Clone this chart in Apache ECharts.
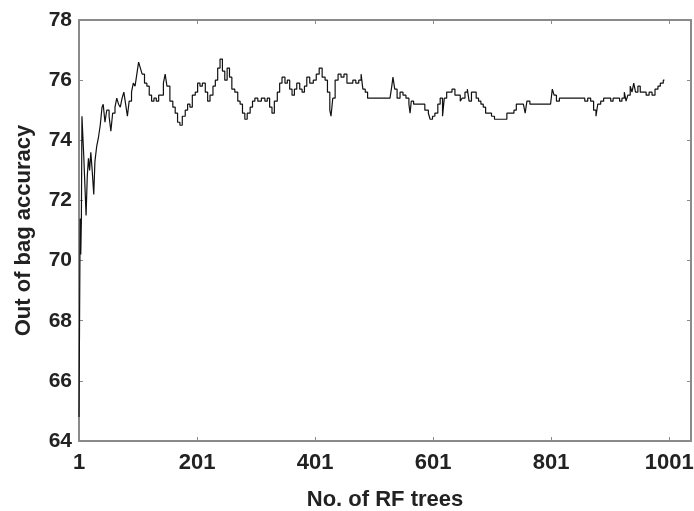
<!DOCTYPE html>
<html>
<head>
<meta charset="utf-8">
<script src="https://cdn.jsdelivr.net/npm/echarts@6/dist/echarts.min.js"></script>
<style>
  html, body { margin: 0; padding: 0; background: #fff; }
  #chart { width: 694px; height: 511px; }
</style>
</head>
<body>
<div id="chart"></div>
<script>
// number of trees (x) and out of bag accuracy (y)
var trees = [1, 2, 3, 4, 5, 6, 7, 9, 11, 13, 15, 17, 19, 21, 23, 26, 28, 31, 34, 37, 40, 42, 45, 48, 52, 55, 58, 62, 65, 68,
  71, 74, 77, 80, 83, 86, 90, 93, 96, 99, 102, 105, 108, 112, 116, 120, 124, 128, 132, 136, 140, 144, 147, 150, 155, 160,
  164, 168, 172, 176, 181, 185, 189, 193, 198, 202, 206, 210, 215, 219, 223, 228, 232, 236, 240, 244, 248, 252, 256, 260,
  265, 270, 274, 278, 282, 286, 291, 295, 299, 304, 310, 316, 320, 324, 328, 332, 337, 341, 345, 350, 354, 358, 362, 366,
  370, 375, 379, 383, 387, 392, 398, 403, 408, 413, 418, 422, 426, 428, 431, 435, 440, 445, 450, 455, 460, 465, 470, 475,
  479, 482, 486, 490, 494, 500, 510, 520, 528, 531, 533, 536, 540, 545, 550, 555, 560, 562, 564, 568, 576, 582, 587, 593,
  596, 600, 604, 609, 613, 617, 620, 624, 628, 633, 638, 642, 647, 650, 655, 659, 662, 666, 670, 674, 678, 682, 686, 690,
  695, 700, 705, 710, 720, 726, 732, 738, 742, 748, 754, 757, 760, 765, 775, 790, 800, 803, 806, 810, 815, 825, 835, 845,
  854, 858, 863, 868, 873, 877, 880, 885, 890, 896, 902, 906, 912, 917, 921, 925, 928, 931, 935, 938, 941, 944, 948, 952,
  957, 962, 967, 972, 977, 982, 986, 991, 993];
var accuracy = [64.8, 68.2, 71.4, 70.2, 71.3, 74.8, 74.8, 73.5, 72.5, 71.5, 72.8, 73.4, 73.0, 73.6, 73.1, 72.2, 73.3, 73.8, 74.1, 74.5, 75.1, 75.2, 74.6, 75.0, 74.8, 74.3, 74.9, 75.1, 75.4, 75.2,
  75.1, 75.4, 75.6, 75.2, 74.8, 75.3, 75.6, 75.9, 75.8, 76.2, 76.6, 76.4, 76.2, 75.9, 75.8, 75.5, 75.3, 75.4, 75.3, 75.5, 75.5, 75.9, 76.2, 75.8, 75.3, 75.1,
  74.9, 74.6, 74.5, 74.8, 75.0, 75.2, 75.1, 75.5, 75.6, 75.9, 75.8, 75.9, 75.6, 75.3, 75.5, 75.8, 76.0, 76.4, 76.7, 76.3, 76.0, 76.4, 76.1, 75.7,
  75.6, 75.3, 75.2, 74.9, 74.7, 74.9, 75.1, 75.3, 75.4, 75.3, 75.4, 75.3, 75.4, 75.1, 74.9, 75.3, 75.6, 75.9, 76.1, 75.9, 76.0, 75.7, 75.5, 75.7,
  75.9, 75.7, 75.6, 75.8, 76.1, 75.9, 76.0, 76.2, 76.4, 76.1, 76.0, 75.6, 75.0, 74.8, 75.4, 76.0, 76.2, 76.1, 76.2, 75.9, 75.9, 76.0, 75.9, 76.0,
  76.2, 75.7, 75.6, 75.4, 75.4, 75.4, 75.4, 75.4, 75.4, 75.8, 76.1, 75.7, 75.4, 75.6, 75.5, 75.4, 75.2, 74.9, 75.3, 75.2, 75.2, 75.2, 75.0, 74.9,
  74.7, 74.8, 74.9, 75.2, 75.4, 74.8, 75.4, 75.6, 75.6, 75.7, 75.5, 75.5, 75.3, 75.4, 75.6, 75.7, 75.3, 75.6, 75.6, 75.4, 75.3, 75.2, 75.1, 74.9,
  74.9, 74.8, 74.7, 74.7, 74.7, 74.9, 74.9, 75.0, 75.2, 75.2, 75.2, 74.9, 75.3, 75.2, 75.2, 75.2, 75.2, 75.7, 75.5, 75.3, 75.4, 75.4, 75.4, 75.4,
  75.4, 75.3, 75.4, 75.3, 75.0, 74.8, 75.2, 75.3, 75.4, 75.4, 75.3, 75.4, 75.4, 75.3, 75.4, 75.6, 75.3, 75.5, 75.8, 75.6, 75.9, 75.6, 75.8, 75.6,
  75.6, 75.5, 75.6, 75.5, 75.7, 75.8, 75.9, 76.0, 76.0];
var xTicks = [1, 201, 401, 601, 801, 1001];

var chart = echarts.init(document.getElementById("chart"));
var lineData = [];
for (var i = 0; i < trees.length; i++) {
  lineData.push([trees[i], accuracy[i]]);
}
var axisGray = "#8a8a8a";
var fontFamily = "Liberation Sans, Arial, sans-serif";
var option = {
  animation: false,
  grid: { left: 79, right: 3, top: 20, bottom: 70, outerBoundsMode: "none" },
  xAxis: [
    {
      type: "value",
      min: 1,
      max: 1038,
      axisLine: { lineStyle: { color: axisGray, width: 2 } },
      axisTick: { inside: true, length: 4, customValues: xTicks, lineStyle: { color: axisGray } },
      axisLabel: {
        customValues: xTicks,
        margin: 11,
        color: "#222",
        fontFamily: fontFamily,
        fontWeight: "bold",
        fontSize: 22,
        formatter: function(v) {
          return String(v); // no thousands separator
        }
      },
      splitLine: { show: false },
      name: "No. of RF trees",
      nameLocation: "middle",
      nameGap: 48,
      nameTextStyle: { color: "#222", fontFamily: fontFamily, fontWeight: "bold", fontSize: 22 }
    },
    {
      type: "value",
      position: "top",
      min: 1,
      max: 1038,
      axisLine: { lineStyle: { color: axisGray, width: 2 } },
      axisTick: { inside: true, length: 4, customValues: xTicks, lineStyle: { color: axisGray } },
      axisLabel: { show: false },
      splitLine: { show: false }
    }
  ],
  yAxis: [
    {
      type: "value",
      min: 64,
      max: 78,
      interval: 2,
      axisLine: { lineStyle: { color: axisGray, width: 2 } },
      axisTick: { inside: true, length: 4, lineStyle: { color: axisGray } },
      axisLabel: { margin: 7, color: "#222", fontFamily: fontFamily, fontWeight: "bold", fontSize: 21 },
      splitLine: { show: false },
      name: "Out of bag accuracy",
      nameLocation: "middle",
      nameGap: 44,
      nameTextStyle: { color: "#222", fontFamily: fontFamily, fontWeight: "bold", fontSize: 22 }
    },
    {
      type: "value",
      position: "right",
      min: 64,
      max: 78,
      interval: 2,
      axisLine: { lineStyle: { color: axisGray, width: 2 } },
      axisTick: { inside: true, length: 4, lineStyle: { color: axisGray } },
      axisLabel: { show: false },
      splitLine: { show: false }
    }
  ],
  series: [
    {
      type: "line",
      data: lineData,
      step: "end",
      symbol: "none",
      lineStyle: { color: "#111", width: 1.2 }
    }
  ]
};
chart.setOption(option);
</script>
</body>
</html>
